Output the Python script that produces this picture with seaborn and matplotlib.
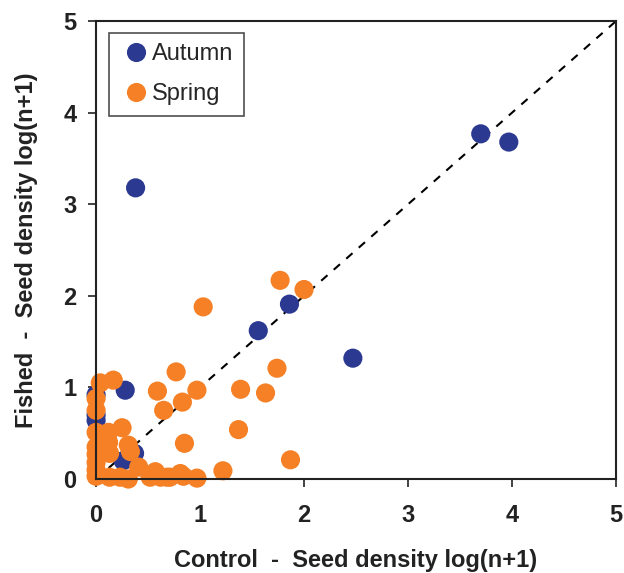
import numpy as np
import pandas as pd
import seaborn as sns
import matplotlib
import matplotlib.pyplot as plt
plt.switch_backend('Agg')

# Autumn samples (control vs fished, log(n+1))
autumn_x = [3.70, 3.97, 0.38, 1.86, 1.56, 2.47, 0.28, 0.0, 0.0, 0.0, 0.37, 0.26]
autumn_y = [3.77, 3.68, 3.18, 1.91, 1.62, 1.32, 0.97, 0.92, 0.70, 0.64, 0.28, 0.20]

# Spring samples
spring_x = [1.77, 2.00, 1.03, 0.77, 1.74, 1.39, 1.63, 1.37, 1.87, 1.22,
            0.165, 0.04, 0.59, 0.97, 0.83, 0.0, 0.0, 0.65, 0.0, 0.12,
            0.25, 0.85, 0.31, 0.12, 0.07, 0.13, 0.0, 0.0, 0.0, 0.0,
            0.0, 0.41, 0.57, 0.81, 0.13, 0.23, 0.31, 0.52, 0.62, 0.71,
            0.84, 0.97, 0.68, 0.33]
spring_y = [2.17, 2.07, 1.88, 1.17, 1.21, 0.98, 0.94, 0.54, 0.21, 0.09,
            1.08, 1.05, 0.96, 0.97, 0.84, 0.88, 0.75, 0.75, 0.51, 0.51,
            0.56, 0.39, 0.37, 0.40, 0.37, 0.28, 0.35, 0.27, 0.18, 0.10,
            0.03, 0.13, 0.08, 0.06, 0.02, 0.02, 0.00, 0.02, 0.02, 0.02,
            0.03, 0.01, 0.02, 0.30]

ticks = [0, 1, 2, 3, 4, 5]

df = pd.DataFrame({
    "control": autumn_x + spring_x,
    "fished": autumn_y + spring_y,
    "season": ["Autumn"] * len(autumn_x) + ["Spring"] * len(spring_x),
})

sns.set_style("white")
matplotlib.rcParams['font.family'] = ["Liberation Sans", "DejaVu Sans"]

fig = plt.figure(figsize=(6.24, 5.73), dpi=100)
ax = fig.add_axes([0.154, 0.164, 0.833, 0.799])

# 1:1 line
ax.plot([0, 5], [0, 5], ls=(0, (4, 4)), color="black", lw=1.5, zorder=1)

sns.scatterplot(data=df, x="control", y="fished", hue="season",
                palette={"Autumn": "#2b3990", "Spring": "#f58025"},
                s=190, edgecolor="none", linewidth=0, alpha=1,
                ax=ax, zorder=2, clip_on=False)

ax.set_xlim(0, 5)
ax.set_ylim(0, 5)
ax.set_xticks(ticks)
ax.set_yticks(ticks)
ax.set_xticklabels([str(t) for t in ticks], fontsize=17, fontweight="bold",
                   color="#222222")
ax.set_yticklabels([str(t) for t in ticks], fontsize=17, fontweight="bold",
                   color="#222222")
ax.tick_params(axis="x", direction="out", length=6, width=1.2,
               color="#222222", bottom=True, pad=12)
ax.tick_params(axis="y", direction="out", length=6, width=1.2,
               color="#222222", left=True, pad=8)
for sp in ax.spines.values():
    sp.set_color("#222222")
    sp.set_linewidth(1.5)

ax.set_xlabel("Control  -  Seed density log(n+1)", fontsize=17,
              fontweight="bold", labelpad=16, color="#222222")
ax.set_ylabel("Fished  -  Seed density log(n+1)", fontsize=17,
              fontweight="bold", labelpad=18, color="#222222")

leg = ax.legend(loc="upper left", bbox_to_anchor=(0.015, 0.985), fontsize=17,
                frameon=True, fancybox=False, edgecolor="#222222",
                handletextpad=0.0, borderpad=0.45, labelspacing=0.75,
                handlelength=1.4, borderaxespad=0.2, markerscale=1.0)
leg.get_frame().set_linewidth(1.2)

plt.savefig("out.png", dpi=100)
